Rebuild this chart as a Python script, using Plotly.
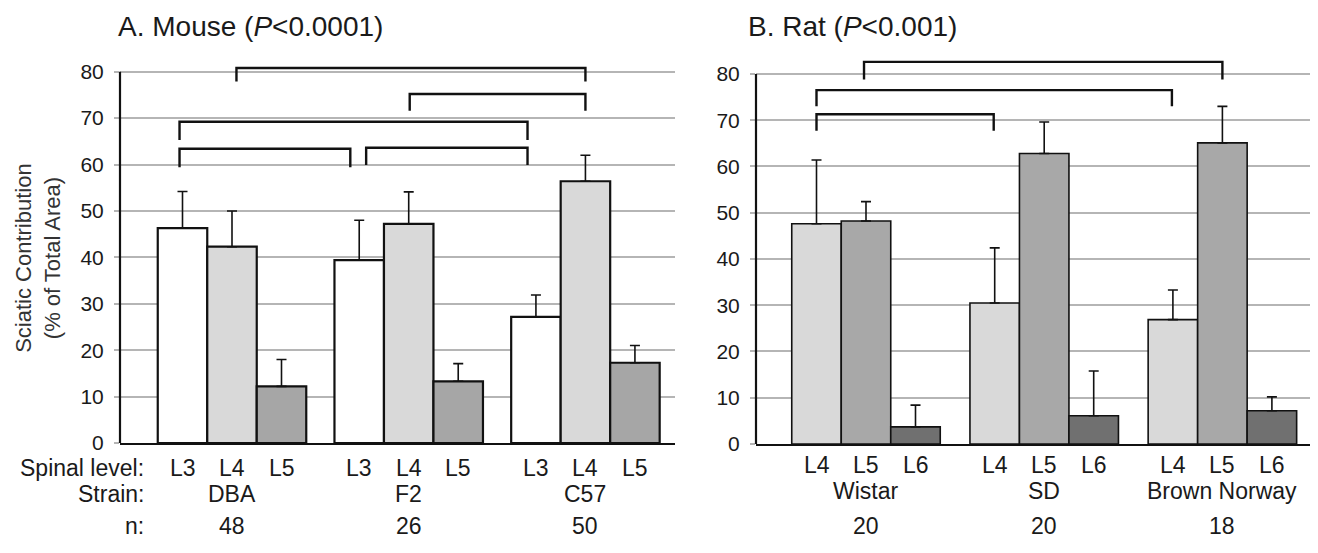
import plotly.graph_objects as go

# ---------------- data ----------------
mouse_strains = ["DBA", "F2", "C57"]
mouse_levels = ["L3", "L4", "L5"]
mouse_n = [48, 26, 50]
mouse_L3_mean = [46.3, 39.4, 27.2]
mouse_L4_mean = [42.3, 47.2, 56.4]
mouse_L5_mean = [12.2, 13.3, 17.3]
mouse_L3_err = [7.9, 8.6, 4.7]
mouse_L4_err = [7.7, 6.9, 5.6]
mouse_L5_err = [5.8, 3.8, 3.7]

rat_strains = ["Wistar", "SD", "Brown Norway"]
rat_levels = ["L4", "L5", "L6"]
rat_n = [20, 20, 18]
rat_L4_mean = [47.6, 30.5, 26.9]
rat_L5_mean = [48.2, 62.8, 65.1]
rat_L6_mean = [3.7, 6.1, 7.2]
rat_L4_err = [13.8, 11.9, 6.4]
rat_L5_err = [4.2, 6.8, 7.9]
rat_L6_err = [4.7, 9.7, 3.0]

y_ticks = [0, 10, 20, 30, 40, 50, 60, 70, 80]

# significance brackets: (group, level) from -> to, bracket top, leg bottom
mouse_brackets = [((0, 1), (2, 1), 80.8, 77.9),
                  ((1, 1), (2, 1), 75.2, 71.6),
                  ((0, 0), (2, 0), 69.2, 65.3),
                  ((0, 0), (1, 0), 63.4, 59.4),
                  ((1, 0), (2, 0), 63.6, 59.9)]
rat_brackets = [((0, 1), (2, 1), 82.6, 78.8),
                ((0, 0), (2, 0), 76.5, 73.0),
                ((0, 0), (1, 0), 71.3, 67.7)]

# ---------------- styling / layout constants ----------------
PAGE_W, PAGE_H = 1318, 553
OFF = 8                      # default page body margin
W, H = PAGE_W - OFF, PAGE_H - OFF
FONT = "Arial, Liberation Sans, sans-serif"
TXT = "#1a1a1a"
GRID = "#b5b5b5"


def px_x(x):
    return (x - OFF) / W


def px_y(y):
    return 1 - (y - OFF) / H


panels = [
    dict(xa="x", ya="y", step=3.57, xdom=(120, 675), first=62.5, y0px=452, y80px=73,
         strains=mouse_strains, levels=mouse_levels, n=mouse_n,
         means=[mouse_L3_mean, mouse_L4_mean, mouse_L5_mean],
         errs=[mouse_L3_err, mouse_L4_err, mouse_L5_err],
         colors=["#ffffff", "#d9d9d9", "#a6a6a6"], edge=2.2,
         brackets=mouse_brackets,
         bdx={(0, 1, 0): 0.09, (1, 1, 1): 0.02, (0, 0, 2): -0.06, (2, 0, 2): -0.17,
              (0, 0, 3): -0.06, (1, 0, 3): -0.18, (1, 0, 4): 0.14, (2, 0, 4): -0.17},
         title="A. Mouse (<i>P</i>&lt;0.0001)", title_x=116, title_y=27,
         lvl_y=477, str_y=504, n_y=537),
    dict(xa="x2", ya="y2", step=3.6, xdom=(756, 1310), first=60.5, y0px=453, y80px=75.3,
         strains=rat_strains, levels=rat_levels, n=rat_n,
         means=[rat_L4_mean, rat_L5_mean, rat_L6_mean],
         errs=[rat_L4_err, rat_L5_err, rat_L6_err],
         colors=["#d9d9d9", "#a8a8a8", "#707070"], edge=1.6,
         brackets=rat_brackets,
         bdx={(0, 1, 0): -0.04, (2, 0, 1): -0.02, (1, 0, 2): -0.02},
         title="B. Rat (<i>P</i>&lt;0.001)", title_x=746, title_y=27,
         lvl_y=474, str_y=501, n_y=537),
]

YMAX = 84
BAR_PX = 49.5
LBL = 23

fig = go.Figure()
shapes = []
annotations = []
layout_axes = {}

for p_i, p in enumerate(panels):
    xs = [[g * p["step"] + lv for g in range(3)] for lv in range(3)]
    for lv in range(3):
        fig.add_trace(go.Bar(
            x=xs[lv], y=p["means"][lv], width=1.0,
            xaxis=p["xa"], yaxis=p["ya"],
            marker=dict(color=p["colors"][lv], line=dict(color="#111111", width=p["edge"])),
            error_y=dict(type="data", array=p["errs"][lv], symmetric=False,
                         arrayminus=[0, 0, 0], color="#111111", thickness=1.6, width=5),
            showlegend=False, hoverinfo="skip",
        ))
    x0px, x1px = p["xdom"]
    xr0 = -p["first"] / BAR_PX
    xr1 = xr0 + (x1px - x0px) / BAR_PX
    ppu = (p["y0px"] - p["y80px"]) / 80.0
    top_px = p["y0px"] - YMAX * ppu
    suffix = "" if p_i == 0 else "2"
    layout_axes["xaxis" + suffix] = dict(
        domain=[px_x(x0px), px_x(x1px)], range=[xr0, xr1], showgrid=False, zeroline=False,
        showticklabels=False, ticks="", showline=True, linecolor="#111111", linewidth=2.2,
        anchor="y" + suffix, fixedrange=True)
    layout_axes["yaxis" + suffix] = dict(
        domain=[px_y(p["y0px"]), px_y(top_px)], range=[0, YMAX],
        tickvals=y_ticks, ticktext=[str(t) for t in y_ticks],
        showgrid=True, gridcolor=GRID, gridwidth=1.5, zeroline=False,
        showline=False, ticks="outside", ticklen=5, tickcolor=GRID, tickwidth=1.5,
        tickfont=dict(family=FONT, size=21, color=TXT), ticklabelstandoff=6,
        anchor="x" + suffix, fixedrange=True)
    shapes.append(dict(type="line", xref=p["xa"] + " domain", yref=p["ya"],
                       x0=0, x1=0, y0=0, y1=80, line=dict(color="#111111", width=2.2)))
    for b_i, ((g0, l0), (g1, l1), top, leg) in enumerate(p["brackets"]):
        bx0 = g0 * p["step"] + l0 + p["bdx"].get((g0, l0, b_i), 0)
        bx1 = g1 * p["step"] + l1 + p["bdx"].get((g1, l1, b_i), 0)
        shapes.append(dict(type="path", xref=p["xa"], yref=p["ya"],
                           path=f"M {bx0} {leg} L {bx0} {top} L {bx1} {top} L {bx1} {leg}",
                           line=dict(color="#111111", width=2.4)))
    for g in range(3):
        for lv in range(3):
            annotations.append(dict(x=xs[lv][g], y=px_y(p["lvl_y"]), xref=p["xa"], yref="paper",
                                    text=p["levels"][lv], showarrow=False, xanchor="center",
                                    yanchor="middle", font=dict(family=FONT, size=LBL, color=TXT)))
        annotations.append(dict(x=xs[1][g], y=px_y(p["str_y"]), xref=p["xa"], yref="paper",
                                text=p["strains"][g], showarrow=False, xanchor="center",
                                yanchor="middle", font=dict(family=FONT, size=LBL, color=TXT)))
        annotations.append(dict(x=xs[1][g], y=px_y(p["n_y"]), xref=p["xa"], yref="paper",
                                text=str(p["n"][g]), showarrow=False, xanchor="center",
                                yanchor="middle", font=dict(family=FONT, size=LBL, color=TXT)))
    annotations.append(dict(x=px_x(p["title_x"]), y=px_y(p["title_y"]), xref="paper", yref="paper",
                            text=p["title"], showarrow=False, xanchor="left", yanchor="middle",
                            font=dict(family=FONT, size=28, color=TXT)))

for txt, ypx in [("Spinal level:", 477), ("Strain:", 504), ("n:", 537)]:
    annotations.append(dict(x=px_x(146), y=px_y(ypx), xref="paper", yref="paper", text=txt,
                            showarrow=False, xanchor="right", yanchor="middle",
                            font=dict(family=FONT, size=LBL, color=TXT)))

annotations.append(dict(x=px_x(38), y=px_y(263), xref="paper", yref="paper",
                        text="Sciatic Contribution<br>(% of Total Area)", textangle=-90,
                        showarrow=False, xanchor="center", yanchor="middle",
                        font=dict(family=FONT, size=22, color="#333333")))

fig.update_layout(
    width=W, height=H, margin=dict(l=0, r=0, t=0, b=0),
    paper_bgcolor="white", plot_bgcolor="white", barmode="overlay",
    shapes=shapes, annotations=annotations, showlegend=False,
    **layout_axes,
)

fig.write_html("out.html", config={"displayModeBar": False})
